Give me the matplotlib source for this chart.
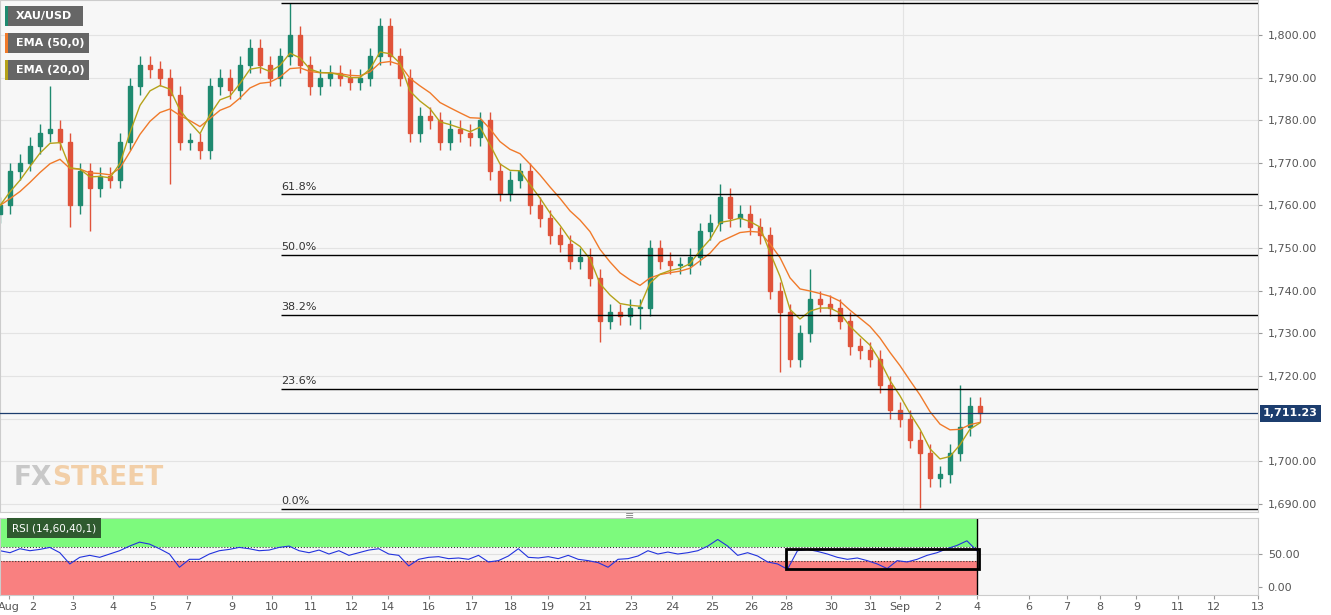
import numpy as np
import pandas as pd
import matplotlib
matplotlib.use("Agg")
import matplotlib.pyplot as plt
from matplotlib.patches import Rectangle

closes = [1760,1768,1770,1774,1777,1778,1775,1760,1768,1764,
          1767,1766,1775,1788,1793,1792,1790,1786,1775,1775,
          1773,1788,1790,1787,1793,1797,1793,1790,1795,1800,
          1793,1788,1790,1791,1790,1789,1790,1795,1802,1795,
          1790,1777,1781,1780,1775,1778,1777,1776,1780,1768,
          1763,1766,1768,1760,1757,1753,1751,1747,1748,1743,
          1733,1735,1734,1736,1736,1750,1747,1746,1746,1748,
          1754,1756,1762,1757,1758,1755,1753,1740,1735,1724,
          1730,1738,1737,1736,1733,1727,1726,1724,1718,1712,
          1710,1705,1702,1696,1697,1702,1708,1713,1711.23]
rsi = [55,52,58,55,57,60,52,35,45,48,
       45,50,55,62,68,65,58,50,30,42,
       42,50,55,57,60,58,55,56,60,62,
       55,52,56,50,55,48,52,56,58,50,
       48,32,42,45,46,43,44,42,48,38,
       40,47,58,45,44,46,43,48,42,40,
       37,30,42,43,47,55,50,53,50,52,
       55,62,72,62,48,52,47,38,35,27,
       55,57,54,50,45,42,44,40,35,28,
       40,38,42,48,52,58,63,70,55]
spike_high = {5: 1788, 29: 1807.5, 38: 1804, 72: 1765, 81: 1745, 96: 1718}
spike_low = {7: 1755, 9: 1754, 17: 1765, 60: 1728, 64: 1731, 78: 1721, 92: 1689}
fib_levels = [1688.8, 1717.0, 1734.4, 1748.5, 1762.6, 1807.6]
fib_labels = ["0.0%", "23.6%", "38.2%", "50.0%", "61.8%", ""]
tick_px = [9,33,73,113,153,188,233,273,312,353,389,430,473,513,550,587,633,674,714,754,789,834,873,903,941,980,1032,1070,1103,1140,1182,1218,1262]
tick_lab = ["Aug","2","3","4","5","7","9","10","11","12","14","16","17","18","19","21","23","24","25","26","28","30","31","Sep","2","4","6","7","8","9","11","12","13"]

c = np.array(closes, float)
n = len(c)
o = np.r_[c[0] - 2, c[:-1]]
hi = np.maximum(o, c) + 2
lo = np.minimum(o, c) - 2
for k, v in spike_high.items(): hi[k] = v
for k, v in spike_low.items(): lo[k] = v
s = pd.Series(c)
ema50 = s.ewm(span=9, adjust=False).mean()
ema20 = s.ewm(span=4, adjust=False).mean()
x = np.arange(n)

W, H = 1331, 615
fig = plt.figure(figsize=(W/100, H/100), dpi=100)
fig.patch.set_facecolor("white")
ax = fig.add_axes([0, 1-512/H, 1258/W, 512/H])
ax2 = fig.add_axes([0, 1-595/H, 1258/W, 77/H])
for a in (ax, ax2):
    a.set_facecolor("#f7f7f7")
    a.set_xlim(0, 125.8)
    for sp in a.spines.values(): sp.set_color("#cccccc")

ax.set_ylim(1688.1, 1808.2)
for yv in range(1690, 1810, 10):
    ax.axhline(yv, color="#e3e3e3", lw=0.8, zorder=0)
ax.axvline(90.3, color="#e3e3e3", lw=0.8, zorder=0)
up = "#1f8a70"; dn = "#e0533a"
for i in range(n):
    col = up if c[i] >= o[i] else dn
    ax.vlines(x[i], lo[i], hi[i], color=col, lw=1, zorder=2)
    ax.add_patch(Rectangle((x[i]-0.2, min(o[i], c[i])), 0.4, max(abs(c[i]-o[i]), 0.3), color=col, zorder=3))
ax.plot(x, ema50, color="#f07a2a", lw=1, zorder=4)
ax.plot(x, ema20, color="#b5a21a", lw=1, zorder=4)
for lv, lb in zip(fib_levels, fib_labels):
    ax.hlines(lv, 28.1, 125.8, color="black", lw=1, zorder=5)
    if lb:
        ax.text(28.1, lv+0.6, lb, fontsize=8, color="#333333", va="bottom", zorder=5)
ax.axhline(1711.23, color="#1c3d6e", lw=0.9, zorder=5)
yt = [v for v in range(1690, 1810, 10) if v != 1710]
ax.yaxis.tick_right()
ax.set_yticks(yt)
ax.set_yticklabels([f"{v:,.2f}" for v in yt], fontsize=8, color="#555555")
ax.tick_params(axis="y", length=3, color="#999999", pad=4)
ax.set_xticks([])
ax.text(1.004, (1711.23-1688.1)/(1808.2-1688.1), "1,711.23", transform=ax.transAxes, fontsize=8,
        color="white", fontweight="bold", va="center", ha="left",
        bbox=dict(boxstyle="square,pad=0.3", fc="#1c3d6e", ec="none"), clip_on=False)
ax.text(14/1258, 1-478/512, "FX", transform=ax.transAxes, fontsize=19, fontweight="bold", color="#c8c8c8", va="center")
ax.text(52/1258, 1-478/512, "STREET", transform=ax.transAxes, fontsize=19, fontweight="bold", color="#f2cfa8", va="center")
for j, (lab, col) in enumerate([("XAU/USD", up), ("EMA (50,0)", "#f07a2a"), ("EMA (20,0)", "#b5a21a")]):
    yc = 1 - (16 + 27*j)/512
    w = 78 if j == 0 else 84
    ax.add_patch(Rectangle((5/1258, yc-10/512), w/1258, 20/512, transform=ax.transAxes, fc="#666666", ec="none", zorder=6))
    ax.add_patch(Rectangle((5/1258, yc-10/512), 3/1258, 20/512, transform=ax.transAxes, fc=col, ec="none", zorder=7))
    ax.text(16/1258, yc, lab, transform=ax.transAxes, color="white", fontsize=8, fontweight="bold", va="center", zorder=8)

ax2.set_ylim(-12, 104.5)
xe = 98
ax2.add_patch(Rectangle((0, 60), xe, 44.5, fc="#7dfa7d", ec="none", zorder=0))
ax2.add_patch(Rectangle((0, -12), xe, 52, fc="#f98080", ec="none", zorder=0))
ax2.add_patch(Rectangle((0, 40), xe, 20, fc="#f7f7f7", ec="none", zorder=0))
ax2.hlines([40, 60], 0, xe, color="#333333", lw=0.8, linestyles=":", zorder=1)
ax2.vlines(xe, -12, 104.5, color="black", lw=1, zorder=1)
ax2.axhline(50, color="#e0e0e0", lw=0.8, zorder=0)
ax2.plot(x, rsi, color="#2233dd", lw=0.8, zorder=2)
ax2.add_patch(Rectangle((78.9, 27), 19.3, 30, fill=False, ec="black", lw=2, zorder=3))
ax2.text(1.2, 89, "RSI (14,60,40,1)", fontsize=7.5, color="white", va="center", zorder=5,
         bbox=dict(boxstyle="square,pad=0.5", fc="#2f5a2f", ec="none"))
ax2.yaxis.tick_right()
ax2.set_yticks([0, 50])
ax2.set_yticklabels(["0.00", "50.00"], fontsize=8, color="#555555")
ax2.tick_params(axis="y", length=3, color="#999999", pad=4)
ax2.set_xticks([p/10 for p in tick_px])
ax2.set_xticklabels(tick_lab, fontsize=8, color="#555555")
ax2.tick_params(axis="x", length=3, color="#999999", pad=2)
fig.text(630/W, 1-516/H, "≡", fontsize=8, color="#888888", ha="center", va="center")
fig.savefig("out.png", dpi=100)
